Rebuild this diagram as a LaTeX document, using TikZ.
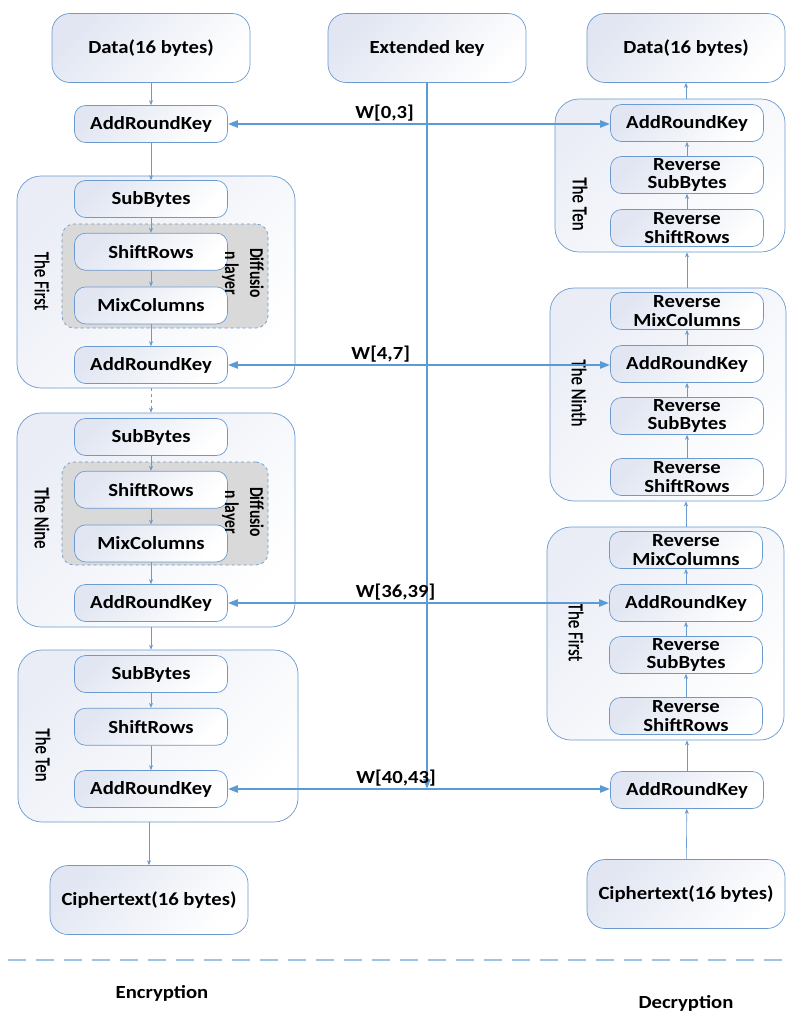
\documentclass[tikz,border=0pt]{standalone}
\usepackage{fontspec}
\setmainfont{Carlito}[FakeStretch=1.12]
\newfontfamily\tagfont{Carlito}[FakeStretch=0.8, UprightFeatures={FakeBold=0.8}]
\usetikzlibrary{arrows.meta,positioning,calc}
\definecolor{edgeblue}{HTML}{6A9AD0}
\definecolor{keyblue}{HTML}{5B9BD5}
\definecolor{sepblue}{HTML}{9DC3E6}
\definecolor{boxtint}{HTML}{E1E6F2}
\definecolor{difgray}{HTML}{D9D9D9}

\begin{document}
\begin{tikzpicture}[x=1pt, y=-1pt,
  stage/.style={draw=edgeblue, line width=0.7pt, rounded corners=11pt,
    top color=boxtint, bottom color=white, shading angle=45,
    minimum width=153pt, minimum height=37pt, inner sep=0pt, align=center,
    font=\bfseries\fontsize{18.5}{18.5}\selectfont},
  iobox/.style={stage, rounded corners=18pt, minimum width=198pt, minimum height=69pt},
  roundbox/.style={draw=edgeblue, line width=0.7pt, rounded corners=24pt,
    top color=boxtint!70, bottom color=white, shading angle=45, inner sep=0pt},
  difbox/.style={draw=edgeblue, dashed, line width=0.7pt, rounded corners=12pt,
    fill=difgray, inner sep=0pt},
  roundtag/.style={rotate=-90, inner sep=0pt, font=\tagfont\fontsize{21}{21}\selectfont},
  diftag/.style={rotate=-90, inner sep=0pt, align=center,
    font=\tagfont\bfseries\fontsize{19.5}{25}\selectfont},
  flow/.style={-{Stealth[length=5pt,width=4pt]}, draw=edgeblue, line width=0.6pt},
  keyln/.style={{Triangle[length=10pt,width=7pt]}-{Triangle[length=10pt,width=7pt]},
    draw=keyblue, line width=2.2pt},
  keydown/.style={-{Triangle[length=10pt,width=7pt]}, draw=keyblue, line width=2.2pt},
  wlab/.style={above, inner sep=2pt, font=\bfseries\fontsize{18.5}{18.5}\selectfont},
  sidelab/.style={font=\bfseries\fontsize{18.5}{18.5}\selectfont},
]
\useasboundingbox (0,0) rectangle (790,1012);

%==================== ENCRYPTION (left) ====================
\node[iobox] (dataL) at (151,48) {Data(16 bytes)};
\node[stage] (arkL0) at (151,124) {AddRoundKey};

% first round
\node[roundbox, minimum width=278pt, minimum height=212pt] (rndL1) at (156,282) {};
\node[difbox, minimum width=206pt, minimum height=104pt] (difL1) at (165,276) {};
\node[stage] (subL1) at (151,199) {SubBytes};
\node[stage, below=15pt of subL1] (shfL1) {ShiftRows};
\node[stage, below=16pt of shfL1] (mixL1) {MixColumns};
\node[stage] (arkL1) at (151,365) {AddRoundKey};
\node[roundtag] (tagL1) at (42,281) {The First};
\node[diftag] (dtagL1) at (243,273) {Diffusio\\n layer};

% ninth round
\node[roundbox, minimum width=278pt, minimum height=214pt] (rndL9) at (156,520) {};
\node[difbox, minimum width=206pt, minimum height=103pt] (difL9) at (165,513.5) {};
\node[stage] (subL9) at (151,437) {SubBytes};
\node[stage, below=15pt of subL9] (shfL9) {ShiftRows};
\node[stage, below=16pt of shfL9] (mixL9) {MixColumns};
\node[stage] (arkL9) at (151,603) {AddRoundKey};
\node[roundtag] (tagL9) at (42,518) {The Nine};
\node[diftag] (dtagL9) at (243,512) {Diffusio\\n layer};

% tenth round
\node[roundbox, minimum width=280pt, minimum height=172pt] (rndL10) at (158,736) {};
\node[stage] (subL10) at (151,674) {SubBytes};
\node[stage, below=15pt of subL10] (shfL10) {ShiftRows};
\node[stage] (arkL10) at (151,789) {AddRoundKey};
\node[roundtag] (tagL10) at (43,755) {The Ten};

\node[iobox] (cipherL) at (149,900) {Ciphertext(16 bytes)};

%==================== KEY (middle) ====================
\node[iobox] (keyE) at (427,48) {Extended key};

%==================== DECRYPTION (right) ====================
\node[iobox] (dataR) at (686,48) {Data(16 bytes)};

% tenth round
\node[roundbox, minimum width=230pt, minimum height=153pt] (rndR10) at (670,175.5) {};
\node[stage] (arkR10) at (687,123) {AddRoundKey};
\node[stage] (subR10) at (687,175) {Reverse\\SubBytes};
\node[stage] (shfR10) at (687,228) {Reverse\\ShiftRows};
\node[roundtag] (tagR10) at (580,204) {The Ten};

% ninth round
\node[roundbox, minimum width=236pt, minimum height=213pt] (rndR9) at (668,394.5) {};
\node[stage] (mixR9) at (687,311) {Reverse\\MixColumns};
\node[stage] (arkR9) at (687,364) {AddRoundKey};
\node[stage] (subR9) at (687,416) {Reverse\\SubBytes};
\node[stage] (shfR9) at (687,477) {Reverse\\ShiftRows};
\node[roundtag] (tagR9) at (579,393) {The Ninth};

% first round
\node[roundbox, minimum width=237pt, minimum height=213pt] (rndR1) at (665.5,633.5) {};
\node[stage] (mixR1) at (686,550) {Reverse\\MixColumns};
\node[stage] (arkR1) at (686,603) {AddRoundKey};
\node[stage] (subR1) at (686,655) {Reverse\\SubBytes};
\node[stage] (shfR1) at (686,716) {Reverse\\ShiftRows};
\node[roundtag] (tagR1) at (576,632) {The First};

\node[stage] (arkRb) at (687,790) {AddRoundKey};
\node[iobox] (cipherR) at (686,894) {Ciphertext(16 bytes)};

%==================== FLOW ====================
\draw[flow] (dataL) -- (arkL0);
\draw[flow] (arkL0) -- (subL1);
\draw[flow] (subL1) -- (shfL1);
\draw[flow] (shfL1) -- (mixL1);
\draw[flow] (mixL1) -- (arkL1);
\draw[flow, dashed] (rndL1.south -| arkL1) -- (rndL9.north -| arkL1);
\draw[flow] (subL9) -- (shfL9);
\draw[flow] (shfL9) -- (mixL9);
\draw[flow] (mixL9) -- (arkL9);
\draw[flow] (rndL9.south -| arkL9) -- (rndL10.north -| arkL9);
\draw[flow] (subL10) -- (shfL10);
\draw[flow] (shfL10) -- (arkL10);
\draw[flow] (rndL10.south -| cipherL) -- (cipherL);

\draw[flow] (cipherR) -- (arkRb);
\draw[flow] (arkRb) -- (rndR1.south -| arkRb);
\draw[flow] (shfR1) -- (subR1);
\draw[flow] (subR1) -- (arkR1);
\draw[flow] (arkR1) -- (mixR1);
\draw[flow] (rndR1.north -| mixR1) -- (rndR9.south -| mixR1);
\draw[flow] (shfR9) -- (subR9);
\draw[flow] (subR9) -- (arkR9);
\draw[flow] (arkR9) -- (mixR9);
\draw[flow] (rndR9.north -| mixR9) -- (rndR10.south -| mixR9);
\draw[flow] (shfR10) -- (subR10);
\draw[flow] (subR10) -- (arkR10);
\draw[flow] (rndR10.north -| dataR) -- (dataR);

%==================== ROUND KEYS ====================
\coordinate (keyend) at (keyE.south |- arkL10.east);
\draw[keydown] (keyE.south) -- (keyend);
\draw[keyln] (arkL0.east) -- (arkL0.east -| arkR10.west) node[wlab, pos=0.41] {W[0,3]};
\draw[keyln] (arkL1.east) -- (arkL1.east -| arkR9.west) node[wlab, pos=0.40] {W[4,7]};
\draw[keyln] (arkL9.east) -- (arkL9.east -| arkR1.west) node[wlab, pos=0.44] {W[36,39]};
\draw[keyln] (arkL10.east) -- (arkL10.east -| arkRb.west) node[wlab, pos=0.44] {W[40,43]};

%==================== SEPARATOR ====================
\draw[sepblue, line width=2pt, dash pattern=on 18pt off 10pt] (8,960) -- (790,960);
\node[sidelab] (encL) at (162,993) {Encryption};
\node[sidelab] (decL) at (686,1003) {Decryption};

\end{tikzpicture}
\end{document}
